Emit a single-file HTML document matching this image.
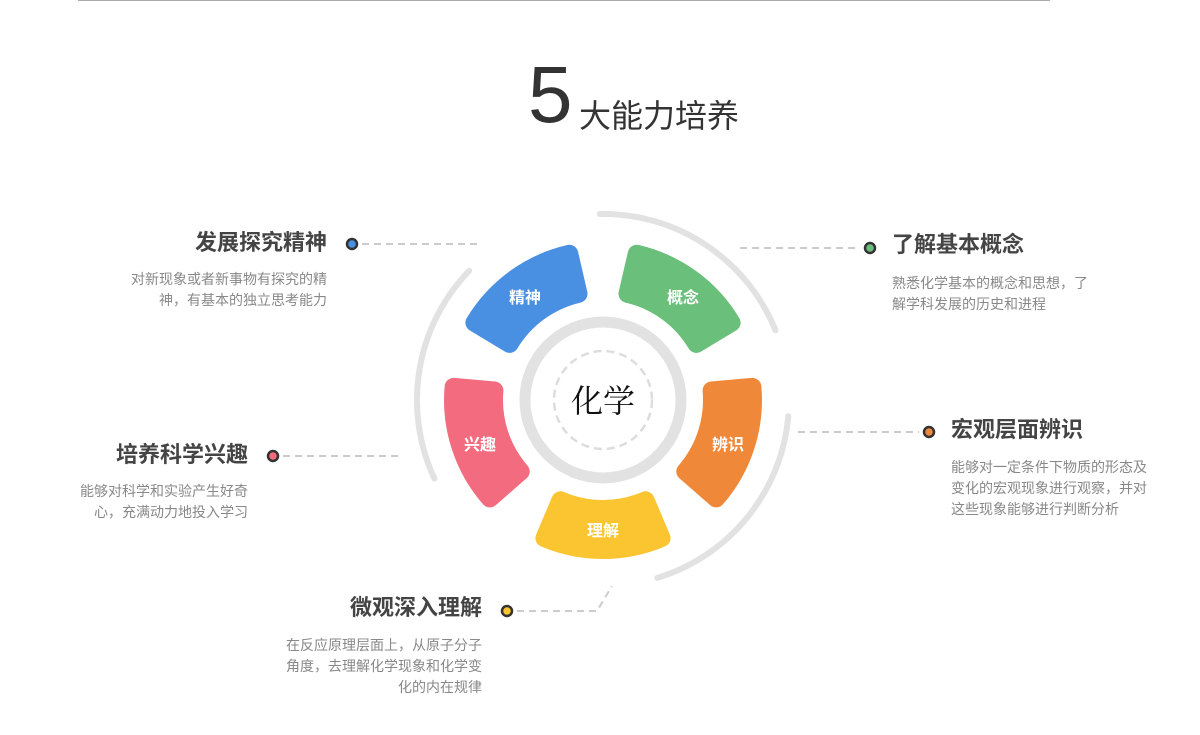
<!DOCTYPE html>
<html><head><meta charset="utf-8"><style>
body{margin:0;width:1200px;height:735px;background:#fff;position:relative;overflow:hidden;font-family:"Liberation Sans","Noto Sans CJK SC",sans-serif}
.t{position:absolute;font-size:22px;font-weight:bold;color:#444;white-space:nowrap;line-height:28px}
.d{position:absolute;font-size:14px;color:#888;line-height:21px;white-space:nowrap}
.r{text-align:right}
</style></head><body>
<div style="position:absolute;left:78px;top:0;width:972px;height:1px;background:#aaa"></div>
<div style="position:absolute;left:528px;top:50px;font-size:80px;color:#333;line-height:90px">5</div>
<div style="position:absolute;left:579px;top:96px;font-size:32px;color:#333;line-height:40px">大能力培养</div>
<svg width="1200" height="735" style="position:absolute;left:0;top:0" id="s">
<g fill="none" stroke="#e2e2e2" stroke-width="6" stroke-linecap="round" id="arcs"></g>
<circle cx="603" cy="400" r="78" fill="none" stroke="#e2e2e2" stroke-width="11"/>
<circle cx="603" cy="400" r="49" fill="none" stroke="#ddd" stroke-width="2.5" stroke-dasharray="8 5"/>
<g id="segs"></g>
<g stroke="#ccc" stroke-width="2" stroke-dasharray="7 5" fill="none">
<line x1="362" y1="244" x2="478" y2="244"/>
<line x1="283" y1="456" x2="398" y2="456"/>
<line x1="740" y1="248" x2="860" y2="248"/>
<line x1="798" y1="432" x2="919" y2="432"/>
<polyline points="517,611 597,611 612,586"/>
</g>
<g stroke="#333" stroke-width="2.5">
<circle cx="352" cy="244" r="5" fill="#4a90e2"/>
<circle cx="273" cy="456" r="5" fill="#f36b7f"/>
<circle cx="870" cy="248" r="5" fill="#6abf7b"/>
<circle cx="929" cy="432" r="5" fill="#f0883a"/>
<circle cx="507" cy="611" r="5" fill="#fbc531"/>
</g>
<g font-size="16" font-weight="bold" fill="#fff" text-anchor="middle" font-family="Liberation Sans,Noto Sans CJK SC,sans-serif">
<text x="525" y="303">精神</text>
<text x="683" y="303">概念</text>
<text x="728" y="450">辨识</text>
<text x="603" y="536">理解</text>
<text x="480" y="450">兴趣</text>
</g>
<text x="603" y="412" font-size="32" fill="#111" text-anchor="middle" font-family="Noto Serif CJK SC,serif">化学</text>
</svg>
<script>
var cx=603,cy=400,R=Math.PI/180;
function p(r,a){return (cx+r*Math.cos(a*R)).toFixed(1)+","+(cy+r*Math.sin(a*R)).toFixed(1)}
var segs=[[-126,"#4a90e2"],[-54,"#6abf7b"],[18,"#f0883a"],[90,"#fbc531"],[162,"#f36b7f"]];
var g=document.getElementById("segs"),h="";
segs.forEach(function(s){var a=s[0],w=23,r1=109,r2=150;
h+='<path d="M'+p(r1,a-w)+' L'+p(r2,a-w)+' A'+r2+','+r2+' 0 0 1 '+p(r2,a+w)+' L'+p(r1,a+w)+' A'+r1+','+r1+' 0 0 0 '+p(r1,a-w)+'Z" fill="'+s[1]+'" stroke="'+s[1]+'" stroke-width="18" stroke-linejoin="round"/>';});
g.innerHTML=h;
var arcs=[[-91,-22],[5,73],[155,224]],ah="";
arcs.forEach(function(a){ah+='<path d="M'+p(186,a[0])+' A186,186 0 0 1 '+p(186,a[1])+'"/>';});
document.getElementById("arcs").innerHTML=ah;
</script>
<div class="t r" style="right:873px;top:229px">发展探究精神</div>
<div class="d r" style="right:873px;top:269px">对新现象或者新事物有探究的精<br>神，有基本的独立思考能力</div>
<div class="t r" style="right:952px;top:441px">培养科学兴趣</div>
<div class="d r" style="right:952px;top:481px">能够对科学和实验产生好奇<br>心，充满动力地投入学习</div>
<div class="t" style="left:892px;top:231px">了解基本概念</div>
<div class="d" style="left:892px;top:273px">熟悉化学基本的概念和思想，了<br>解学科发展的历史和进程</div>
<div class="t" style="left:951px;top:416px">宏观层面辨识</div>
<div class="d" style="left:951px;top:457px">能够对一定条件下物质的形态及<br>变化的宏观现象进行观察，并对<br>这些现象能够进行判断分析</div>
<div class="t r" style="right:718px;top:594px">微观深入理解</div>
<div class="d r" style="right:718px;top:635px">在反应原理层面上，从原子分子<br>角度，去理解化学现象和化学变<br>化的内在规律</div>
</body></html>
